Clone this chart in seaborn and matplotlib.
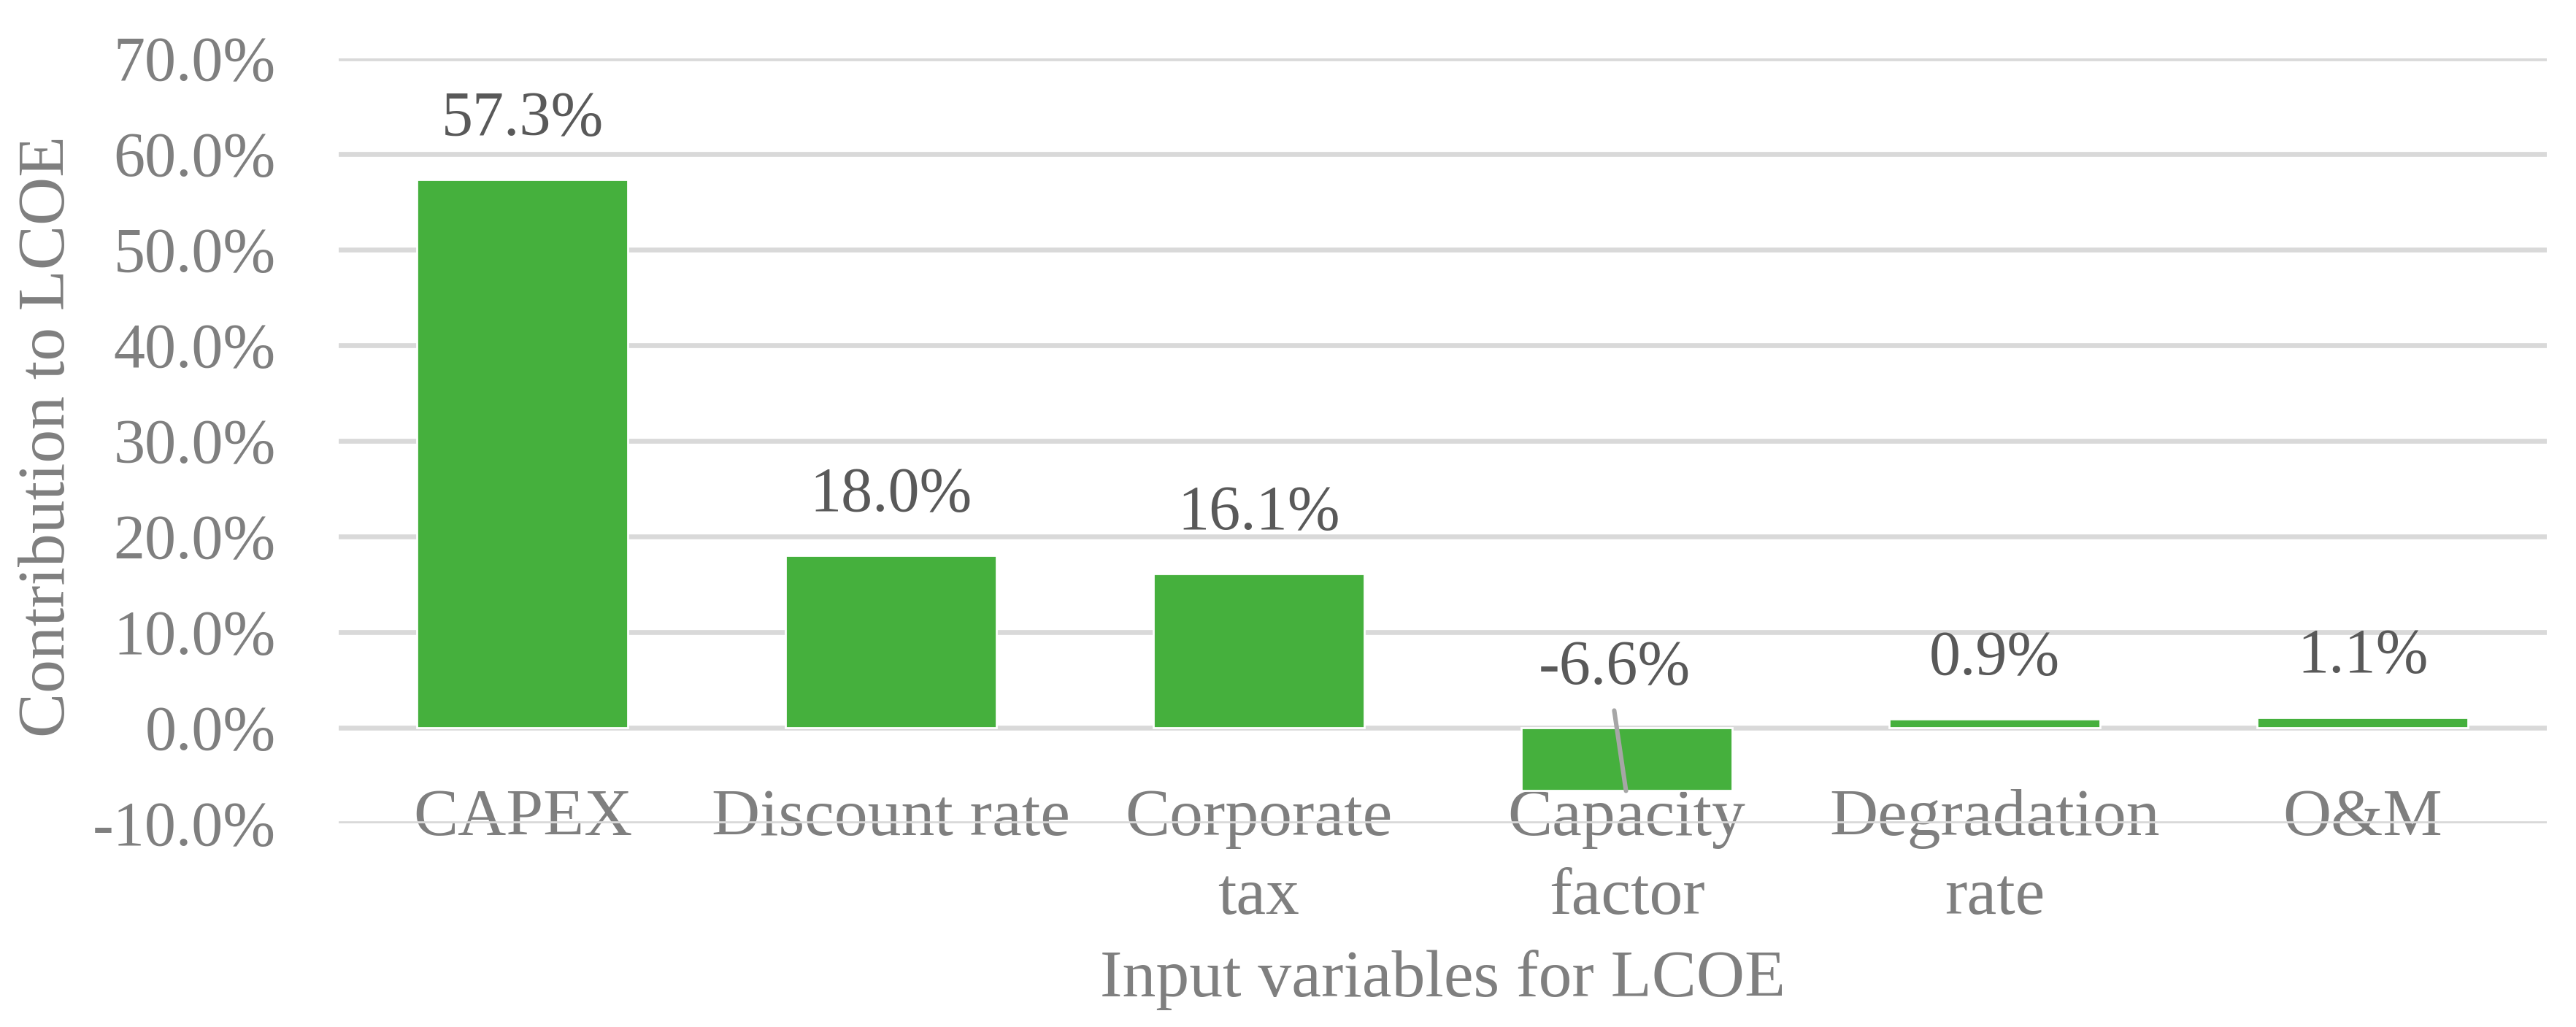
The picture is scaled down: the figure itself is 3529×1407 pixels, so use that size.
import matplotlib
matplotlib.use("Agg")
import matplotlib.pyplot as plt
from matplotlib.ticker import FuncFormatter, MultipleLocator
import seaborn as sns

# data
variables = ['CAPEX', 'Discount rate', 'Corporate\ntax', 'Capacity\nfactor',
             'Degradation\nrate', 'O&M']
contribution = [57.3, 18.0, 16.1, -6.6, 0.9, 1.1]
labels = ['57.3%', '18.0%', '16.1%', '-6.6%', '0.9%', '1.1%']

sns.set_style("white")
plt.rcParams['font.family'] = ['Liberation Serif', 'DejaVu Serif']

bar_clr = '#45B03D'
tick_clr = '#7F7F7F'
lab_clr = '#595959'
fs = 31      # numbers
fs_txt = 33  # words

fig = plt.figure(figsize=(17.65, 7.035), dpi=200)
ax = fig.add_axes([0.1314, 0.1983, 0.857, 0.7448])

sns.barplot(x=variables, y=contribution, color=bar_clr, width=0.573,
            saturation=1, ax=ax, zorder=3)

ax.set_xlim(-0.5, len(variables) - 0.5)
ax.set_ylim(-10, 70)
ax.yaxis.set_major_locator(MultipleLocator(10))
ax.yaxis.set_major_formatter(FuncFormatter(lambda v, p: f'{v:.1f}%'))
ax.grid(axis='y', color='#D9D9D9', lw=2.4, zorder=0)
ax.set_axisbelow(True)
for s in ax.spines.values():
    s.set_visible(False)

ax.tick_params(axis='y', length=0, pad=31, labelsize=fs, labelcolor=tick_clr)
ax.tick_params(axis='x', length=0, pad=-17, labelsize=fs_txt, labelcolor=tick_clr)
for t in ax.get_xticklabels():
    t.set_linespacing(1.4)

ax.set_xlabel('Input variables for LCOE', fontsize=fs_txt, color=tick_clr)
ax.set_ylabel('Contribution to LCOE', fontsize=fs_txt, color=tick_clr)
ax.xaxis.set_label_coords(0.5, -0.165)
ax.yaxis.set_label_coords(-0.118, 0.506)

# value labels
for i, (v, lab) in enumerate(zip(contribution, labels)):
    if v >= 0:
        ax.annotate(lab, (i, v), xytext=(0, 22), textcoords='offset points',
                    ha='center', va='baseline', fontsize=fs, color=lab_clr,
                    zorder=5)
    else:
        # label sits above the axis with a leader line to the bar
        ax.text(i - 0.034, 4.58, lab, ha='center', va='baseline',
                fontsize=fs, color=lab_clr, zorder=5)
        ax.plot([i - 0.034, i - 0.002], [1.8, v], color='#A6A6A6',
                lw=2.2, zorder=4)

fig.savefig('out.png', dpi=200)
